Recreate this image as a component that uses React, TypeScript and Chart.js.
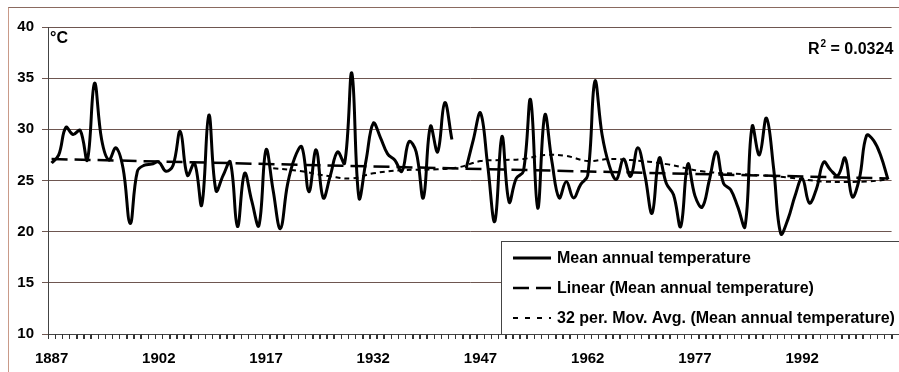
import React, { useEffect, useRef } from 'react';
import { Chart, registerables } from 'chart.js';

Chart.register(...registerables);

const years: string[] = [
  '1887','1888','1889','1890','1891','1892','1893','1894','1895','1896',
  '1897','1898','1899','1900','1901','1902','1903','1904','1905','1906',
  '1907','1908','1909','1910','1911','1912','1913','1914','1915','1916',
  '1917','1918','1919','1920','1921','1922','1923','1924','1925','1926',
  '1927','1928','1929','1930','1931','1932','1933','1934','1935','1936',
  '1937','1938','1939','1940','1941','1942','1943','1944','1945','1946',
  '1947','1948','1949','1950','1951','1952','1953','1954','1955','1956',
  '1957','1958','1959','1960','1961','1962','1963','1964','1965','1966',
  '1967','1968','1969','1970','1971','1972','1973','1974','1975','1976',
  '1977','1978','1979','1980','1981','1982','1983','1984','1985','1986',
  '1987','1988','1989','1990','1991','1992','1993','1994','1995','1996',
  '1997','1998','1999','2000','2001','2002','2003','2004',
];

const meanTemp: (number | null)[] = [
  26.7, 27.5, 30.2, 29.5, 29.9, 27.0, 34.5, 29.0, 27.0, 28.2,
  26.2, 20.8, 25.9, 26.5, 26.6, 26.8, 25.9, 26.5, 29.8, 25.5,
  26.7, 22.6, 31.4, 24.0, 25.5, 26.8, 20.5, 25.7, 23.0, 20.6,
  28.0, 24.0, 20.3, 24.6, 27.2, 28.3, 23.9, 28.0, 23.3, 25.5,
  27.8, 26.7, 35.5, 23.3, 27.0, 30.6, 29.2, 27.6, 27.0, 25.9,
  28.8, 27.8, 23.3, 30.3, 27.8, 32.6, 29.0, null, 26.2, 29.0,
  31.6, 26.5, 21.0, 29.3, 22.9, 25.2, 25.9, 32.9, 22.3, 31.4,
  26.8, 23.3, 24.9, 23.3, 24.6, 25.5, 34.7, 29.5, 26.5, 25.1,
  27.1, 25.4, 28.2, 25.5, 21.8, 27.2, 24.7, 23.6, 20.5, 26.6,
  23.5, 22.4, 25.0, 27.8, 24.7, 24.1, 22.4, 20.5, 30.3, 27.5,
  31.1, 26.2, 19.8, 21.2, 23.5, 25.2, 22.8, 24.2, 26.8, 26.0,
  25.5, 27.2, 23.4, 25.2, 29.4, 28.9, 27.4, 25.1,
];

const trendYears: string[] = ['1887', '2004'];
const trendValues: number[] = [27.1, 25.2];

const maYears: string[] = [
  '1918','1922','1926','1929','1932','1936','1941','1944','1947','1950','1953','1956',
  '1959','1962','1965','1968','1973','1978','1984','1990','1995','2001','2004',
];
const maValues: number[] = [
  26.2, 25.9, 25.4, 25.2, 25.7, 26.0, 26.1, 26.3, 26.9, 27.0, 27.1, 27.5,
  27.4, 26.9, 27.1, 27.0, 26.6, 25.9, 25.6, 25.3, 24.9, 24.9, 25.1,
];

const yTicks: number[] = [10, 15, 20, 25, 30, 35, 40];
const labelEvery = 15;

const legendLabels: string[] = [
  'Mean annual temperature',
  'Linear (Mean annual temperature)',
  '32 per. Mov. Avg. (Mean annual temperature)',
];
const unitLabel = '°C';
const r2Value = '0.0324';

const FONT = '"Liberation Sans", Arial, Helvetica, sans-serif';
const gridColor = '#6e5650';
const axisColor = '#444444';

const overlayPlugin = {
  id: 'overlay',
  afterDraw(chart: any) {
    const ctx: CanvasRenderingContext2D = chart.ctx;
    const a = chart.chartArea;
    const xs = chart.scales.x;
    ctx.save();

    // category tick marks below the x axis
    ctx.strokeStyle = '#333';
    ctx.lineWidth = 1;
    ctx.beginPath();
    const half = (xs.getPixelForValue(1) - xs.getPixelForValue(0)) / 2;
    for (let i = 0; i <= years.length; i++) {
      const px = Math.round(xs.getPixelForValue(Math.min(i, years.length - 1)) + (i === years.length ? half : -half)) + 0.5;
      ctx.moveTo(px, a.bottom);
      ctx.lineTo(px, a.bottom + 5);
    }
    ctx.stroke();

    ctx.fillStyle = '#000';
    ctx.font = `bold 16px ${FONT}`;
    ctx.textBaseline = 'alphabetic';
    ctx.textAlign = 'left';
    ctx.fillText(unitLabel, a.left + 2, a.top + 16);

    let rx = a.left + 760;
    const ry = a.top + 27;
    ctx.fillText('R', rx, ry);
    rx += ctx.measureText('R').width;
    ctx.font = `bold 10px ${FONT}`;
    ctx.fillText('2', rx + 1, ry - 7);
    rx += ctx.measureText('2').width + 1;
    ctx.font = `bold 16px ${FONT}`;
    ctx.fillText(' = ' + r2Value, rx, ry);

    const bx = a.left + 453;
    const by = a.top + 214;
    const bh = a.bottom - by;
    ctx.fillStyle = '#ffffff';
    ctx.fillRect(bx, by, chart.width - bx + 10, bh);
    ctx.strokeStyle = axisColor;
    ctx.lineWidth = 1;
    ctx.strokeRect(Math.round(bx) + 0.5, Math.round(by) + 0.5, chart.width, bh);

    const dashes: number[][] = [[], [16, 7], [5, 7]];
    const widths = [3, 2.5, 2];
    const rowY = [by + 17, by + 47, by + 77];
    for (let i = 0; i < legendLabels.length; i++) {
      ctx.beginPath();
      ctx.setLineDash(dashes[i]);
      ctx.lineWidth = widths[i];
      ctx.strokeStyle = '#000';
      ctx.moveTo(bx + 12, rowY[i]);
      ctx.lineTo(bx + 50, rowY[i]);
      ctx.stroke();
      ctx.setLineDash([]);
      ctx.fillStyle = '#000';
      ctx.font = `bold 16px ${FONT}`;
      ctx.textBaseline = 'middle';
      ctx.fillText(legendLabels[i], bx + 56, rowY[i] + 1);
    }
    ctx.restore();
  },
};

export default function App() {
  const canvasRef = useRef<HTMLCanvasElement | null>(null);

  useEffect(() => {
    if (!canvasRef.current) return;
    const chart = new Chart(canvasRef.current, {
      type: 'line',
      data: {
        labels: years,
        datasets: [
          {
            label: legendLabels[0],
            data: meanTemp,
            borderColor: '#000',
            borderWidth: 3,
            tension: 0.4,
            pointRadius: 0,
            spanGaps: false,
            fill: false,
          },
          {
            label: legendLabels[1],
            data: trendYears.map((y, i) => ({ x: y, y: trendValues[i] })),
            borderColor: '#000',
            borderWidth: 2.5,
            borderDash: [16, 7],
            pointRadius: 0,
            tension: 0,
            fill: false,
          },
          {
            label: legendLabels[2],
            data: maYears.map((y, i) => ({ x: y, y: maValues[i] })),
            borderColor: '#000',
            borderWidth: 2,
            borderDash: [5, 4],
            pointRadius: 0,
            tension: 0.4,
            spanGaps: true,
            fill: false,
          },
        ] as any,
      },
      options: {
        responsive: false,
        animation: false,
        devicePixelRatio: 1,
        layout: { padding: { top: 27, right: 1.4, left: 0, bottom: 0 } },
        plugins: { legend: { display: false }, tooltip: { enabled: false } },
        scales: {
          x: {
            type: 'category',
            offset: true,
            grid: {
              display: true,
              drawOnChartArea: false,
              drawTicks: true,
              tickLength: 5,
              color: '#333333',
              lineWidth: 1,
              offset: true,
            },
            border: { display: true, color: axisColor, width: 1 },
            ticks: {
              autoSkip: false,
              maxRotation: 0,
              minRotation: 0,
              padding: 11,
              color: '#000',
              font: { family: FONT, size: 15, weight: 'bold' },
              callback: (_v: any, i: number) => (i % labelEvery === 0 ? years[i] : ''),
            },
            afterFit: (s: any) => {
              s.height = 38;
            },
          },
          y: {
            type: 'linear',
            min: yTicks[0],
            max: yTicks[yTicks.length - 1],
            afterBuildTicks: (s: any) => {
              s.ticks = yTicks.map((v) => ({ value: v }));
            },
            ticks: {
              padding: 8,
              color: '#000',
              font: { family: FONT, size: 15, weight: 'bold' },
            },
            grid: { color: gridColor, tickLength: 6, lineWidth: 1 },
            border: { display: true, color: axisColor, width: 1 },
            afterFit: (s: any) => {
              s.width = 48;
            },
          },
        } as any,
      },
      plugins: [overlayPlugin],
    });
    return () => chart.destroy();
  }, []);

  return (
    <div style={{ position: 'fixed', left: 0, top: 0, width: 899, height: 372, background: '#fff', overflow: 'hidden' }}>
      <div
        style={{
          position: 'absolute',
          left: 8,
          top: 7,
          width: 1000,
          height: 400,
          borderLeft: '1px solid #c99a88',
          borderTop: '1px solid #8a6a60',
        }}
      />
      <canvas ref={canvasRef} width={899} height={372} style={{ position: 'absolute', left: 0, top: 0, display: 'block' }} />
    </div>
  );
}
